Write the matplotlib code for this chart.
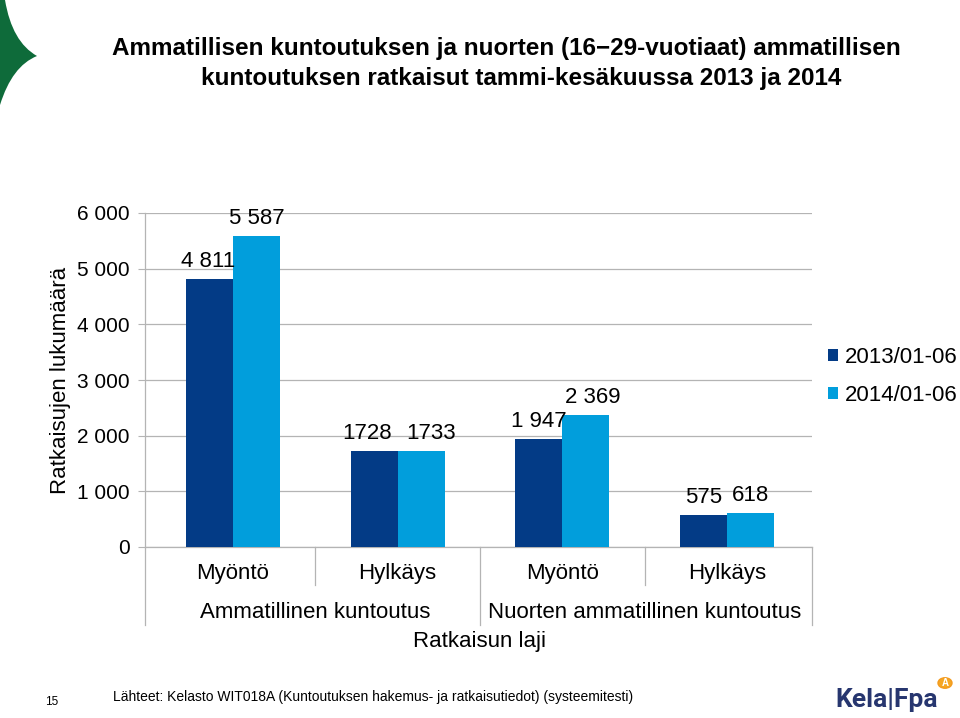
import numpy as np
import matplotlib.pyplot as plt
from matplotlib.path import Path
from matplotlib.patches import PathPatch, Circle

plt.rcParams['font.family'] = ['Liberation Sans', 'DejaVu Sans']

# data
kinds = ['Myöntö', 'Hylkäys', 'Myöntö', 'Hylkäys']
groups = ['Ammatillinen kuntoutus', 'Nuorten ammatillinen kuntoutus']
series_names = ['2013/01-06', '2014/01-06']
v2013 = [4811, 1728, 1947, 575]
v2014 = [5587, 1733, 2369, 618]
lab2013 = ['4 811', '1728', '1 947', '575']
lab2014 = ['5 587', '1733', '2 369', '618']
yticks = [0, 1000, 2000, 3000, 4000, 5000, 6000]
yticklabels = ['0', '1 000', '2 000', '3 000', '4 000', '5 000', '6 000']

# sideways nudges (points) of data labels, as the original spreads them apart
nudge2013 = [-1, -5, 0, 0]
nudge2014 = [0, 7, 5, 0]

dark = '#033B86'
light = '#019EDC'
grid = '#B4B4B4'

W, H = 960, 718
fig = plt.figure(figsize=(9.6, 7.18), dpi=100)

# plot area in pixels
L, R, T, B = 145, 812, 213, 547
ax = fig.add_axes([L / W, 1 - B / H, (R - L) / W, (B - T) / H])

x = np.arange(len(kinds))
w = 0.285
b1 = ax.bar(x - w / 2, v2013, w, color=dark, label=series_names[0], zorder=3)
b2 = ax.bar(x + w / 2, v2014, w, color=light, label=series_names[1], zorder=3)

for bars, labs, nud in [(b1, lab2013, nudge2013), (b2, lab2014, nudge2014)]:
    for rect, t, dx in zip(bars, labs, nud):
        ax.annotate(t, (rect.get_x() + rect.get_width() / 2, rect.get_height()),
                    xytext=(dx, 12.5), textcoords='offset points',
                    ha='center', va='center', fontsize=16, zorder=4)

ax.set_xlim(-0.534, 3.516)
ax.set_ylim(0, 6000)
ax.set_yticks(yticks)
ax.set_yticklabels(yticklabels, fontsize=15)
ax.yaxis.grid(True, color=grid, lw=0.9, zorder=0)
ax.set_xticks([])
for s in ['top', 'right']:
    ax.spines[s].set_visible(False)
for s in ['left', 'bottom']:
    ax.spines[s].set_color(grid)
    ax.spines[s].set_linewidth(0.9)
ax.tick_params(axis='y', length=5, color=grid, pad=6)

ax.set_ylabel('Ratkaisujen lukumäärä', fontsize=16)
ax.yaxis.set_label_coords((71 - L) / (R - L), 0.5)

# multi-level category axis
tr = ax.get_xaxis_transform()
h = B - T
for xs in [0.5, 2.5]:
    ax.plot([xs, xs], [0, -(585 - B) / h], color=grid, lw=0.9, transform=tr, clip_on=False)
for xs in [1.5]:
    ax.plot([xs, xs], [0, -(625 - B) / h], color=grid, lw=0.9, transform=tr, clip_on=False)
for xs in [0, 1]:
    ax.plot([xs, xs], [0, -(625 - B) / h], color=grid, lw=0.9, transform=ax.transAxes, clip_on=False)
for xi, k in zip(x, kinds):
    ax.text(xi, -(574 - B) / h, k, transform=tr, ha='center', va='center', fontsize=16)
for gi, g in enumerate(groups):
    ax.text(0.5 + 2 * gi, -(612 - B) / h, g, transform=tr, ha='center', va='center', fontsize=16)
ax.text(1.5, -(641 - B) / h, 'Ratkaisun laji', transform=tr, ha='center', va='center', fontsize=16)

fig.legend(loc='upper left', bbox_to_anchor=(819 / W, 1 - 338 / H), frameon=False,
           fontsize=16, handlelength=0.45, handleheight=0.45, handletextpad=0.3,
           labelspacing=0.75, borderaxespad=0)

fig.text(506 / W, 1 - 48 / H, 'Ammatillisen kuntoutuksen ja nuorten (16\u221229-vuotiaat) ammatillisen',
         ha='center', va='center', fontsize=17.5, fontweight='bold')
fig.text(521 / W, 1 - 78 / H, 'kuntoutuksen ratkaisut tammi-kesäkuussa 2013 ja 2014',
         ha='center', va='center', fontsize=17.5, fontweight='bold')

# footer
fig.text(52 / W, 1 - 702 / H, '15', ha='center', va='center', fontsize=8.5)
fig.text(113 / W, 1 - 697 / H,
         'Lähteet: Kelasto WIT018A (Kuntoutuksen hakemus- ja ratkaisutiedot) (systeemitesti)',
         ha='left', va='center', fontsize=10)

# logo
fig.text(835 / W, 1 - 707 / H, 'Kela|Fpa', ha='left', va='baseline', fontsize=19,
         fontweight='bold', color='#27366F', family=['Roboto', 'DejaVu Sans'])
fig.patches.append(Circle((945 / W, 1 - 683 / H), 7 / W, transform=fig.transFigure,
                          facecolor='#F5A623', edgecolor='#F39A1E', lw=1))
fig.text(945 / W, 1 - 683 / H, 'A', ha='center', va='center', fontsize=7,
         fontweight='bold', color='white')

# green corner shape
pts = [(0, 0), (5, 0), (12, 42), (37, 56), (12, 66), (0, 105), (0, 0)]
codes = [Path.MOVETO, Path.LINETO, Path.CURVE3, Path.CURVE3, Path.CURVE3, Path.CURVE3, Path.CLOSEPOLY]
verts = [(px / W, 1 - py / H) for px, py in pts]
fig.patches.append(PathPatch(Path(verts, codes), transform=fig.transFigure,
                             facecolor='#0E6B3A', edgecolor='none'))

fig.savefig('out.png', dpi=100)
